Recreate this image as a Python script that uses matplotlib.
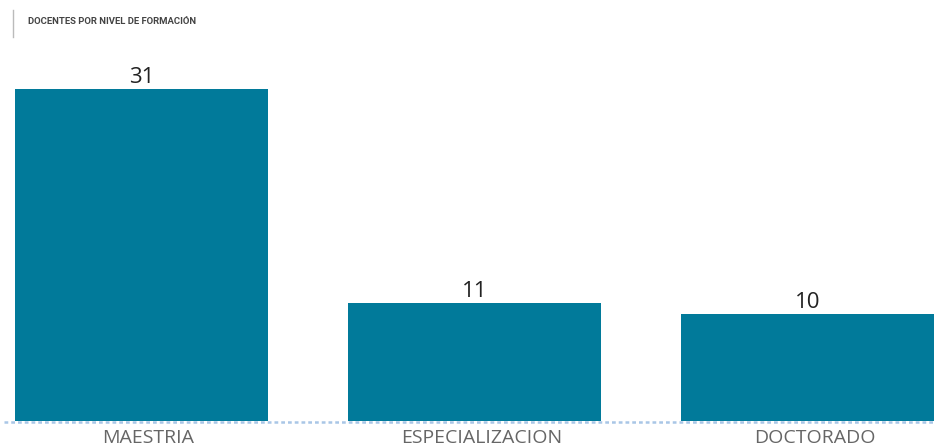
import matplotlib
matplotlib.use("Agg")
import matplotlib.pyplot as plt
import matplotlib.transforms as mtransforms
from matplotlib.lines import Line2D

categories = ["MAESTRIA", "ESPECIALIZACION", "DOCTORADO"]
values = [31, 11, 10]
title = "DOCENTES POR NIVEL DE FORMACIÓN"

W, H = 935, 447
fig = plt.figure(figsize=(W / 100, H / 100), dpi=100)
fig.patch.set_facecolor("white")

ax_left, ax_right = 15, 934
ax_bottom_px, ax_top_px = 421, 60
ax = fig.add_axes([ax_left / W, (H - ax_bottom_px) / H,
                   (ax_right - ax_left) / W, (ax_bottom_px - ax_top_px) / H])
ax.set_facecolor("none")

x = range(len(categories))
bw = 0.76
bars = ax.bar(x, values, width=bw, color="#017A9A", zorder=2)
ax.set_xlim(-bw / 2, len(categories) - 1 + bw / 2)
ax.set_ylim(0, (ax_bottom_px - ax_top_px) / ((421 - 89) / 31))

for b, v in zip(bars, values):
    ax.annotate(str(v), (b.get_x() + b.get_width() / 2, v), xytext=(0, 1),
                textcoords="offset points", ha="center", va="bottom",
                fontsize=16, color="#222222", family="Open Sans")

ax.set_xticks(list(x))
ax.set_xticklabels(categories, fontsize=14, color="#666666", family="Open Sans")
ax.tick_params(axis="x", length=0, pad=6)
shift = mtransforms.ScaledTranslation(7 / 100, 0, fig.dpi_scale_trans)
for lbl in ax.get_xticklabels():
    lbl.set_transform(lbl.get_transform() + shift)
ax.set_yticks([])
for s in ax.spines.values():
    s.set_visible(False)

# dotted baseline
fig.add_artist(Line2D([4 / W, 1.0], [(H - 422) / H] * 2, color="#A9C6E6",
                      linestyle=(0, (1.5, 1.2)), linewidth=1.8, zorder=1))

# title with vertical rule
fig.add_artist(Line2D([13 / W, 13 / W], [(H - 10) / H, (H - 37) / H],
                      color="#BBBBBB", linewidth=1))
fig.text(28 / W, (H - 21) / H, title, fontsize=6.8, fontweight="bold",
         color="#444444", va="center", ha="left", family="Roboto")

fig.savefig("out.png", dpi=100)
